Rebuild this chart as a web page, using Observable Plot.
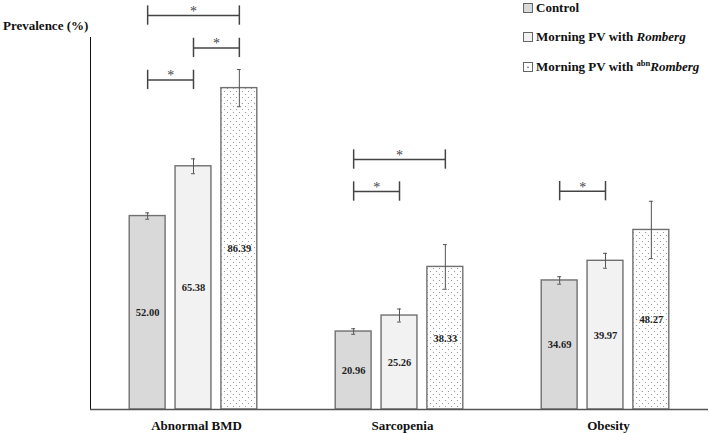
<!DOCTYPE html>
<html>
<head>
<meta charset="utf-8">
<script src="https://cdn.jsdelivr.net/npm/d3@7"></script>
<script src="https://cdn.jsdelivr.net/npm/@observablehq/plot@0.6"></script>
<style>
  body { margin: 0; background: #fff; }
  #wrap { position: relative; width: 709px; height: 433px; font-family: "Liberation Serif", "Times New Roman", serif; color: #111; }
  #ylab { position: absolute; left: 3px; top: 18px; font-weight: bold; font-size: 13px; white-space: nowrap; }
  .leg { position: absolute; left: 523px; font-weight: bold; font-size: 13px; white-space: nowrap; display: flex; align-items: center; }
  .sw { width: 8px; height: 8px; border: 1px solid #666; margin-right: 3px; box-sizing: content-box; }
  .leg sup { font-size: 8.5px; vertical-align: 5px; line-height: 0; }
  #chart { position: absolute; left: 0; top: 0; }
</style>
</head>
<body>
<div id="wrap">
  <div id="chart"></div>
  <div id="ylab">Prevalence (%)</div>
  <div id="legend"></div>
</div>
<script>
// ---- data ----
const categories = ["Abnormal BMD", "Sarcopenia", "Obesity"];
const groups = ["Control", "Morning PV with Romberg", "Morning PV with abnRomberg"];
const controlValues = [52.00, 20.96, 34.69];
const rombergValues = [65.38, 25.26, 39.97];
const abnRombergValues = [86.39, 38.33, 48.27];
const controlErrors = [0.85, 0.75, 1.0];
const rombergErrors = [2.0, 1.75, 2.0];
const abnRombergErrors = [5.0, 6.0, 7.7];
// significance brackets
const bracketCategory = ["Abnormal BMD", "Abnormal BMD", "Abnormal BMD", "Sarcopenia", "Sarcopenia", "Obesity"];
const bracketFrom = ["Control", "Morning PV with Romberg", "Control", "Control", "Control", "Control"];
const bracketTo = ["Morning PV with abnRomberg", "Morning PV with abnRomberg", "Morning PV with Romberg", "Morning PV with abnRomberg", "Morning PV with Romberg", "Morning PV with Romberg"];
const bracketLevel = [105.9, 97.2, 88.6, 67.2, 58.6, 58.7];
const bracketLabel = ["*", "*", "*", "*", "*", "*"];

// ---- tables ----
const valuesByGroup = [controlValues, rombergValues, abnRombergValues];
const errorsByGroup = [controlErrors, rombergErrors, abnRombergErrors];
const rows = [];
categories.forEach((c, i) => groups.forEach((g, j) => {
  rows.push({category: c, group: g, value: valuesByGroup[j][i], err: errorsByGroup[j][i]});
}));
const brackets = bracketCategory.map((c, i) => ({
  category: c, from: bracketFrom[i], to: bracketTo[i], level: bracketLevel[i], label: bracketLabel[i],
  span: groups.indexOf(bracketTo[i]) - groups.indexOf(bracketFrom[i])
}));
const bracketEnds = brackets.flatMap(b => [{category: b.category, group: b.from, level: b.level}, {category: b.category, group: b.to, level: b.level}]);

// ---- layout ----
const W = 709, H = 433, mL = 89, mR = 0, mT = 37, mB = 24;
const padInner = 0.217, padOuter = 0.855;
const facetW = (W - mL - mR) / categories.length;
const step = facetW / (groups.length - padInner + 2 * padOuter);
const bw = step * (1 - padInner);
const font = '"Liberation Serif", "Times New Roman", serif';
const fills = ["#d9d9d9", "#f2f2f2", "url(#dots)"];

const chart = Plot.plot({
  width: W, height: H,
  marginLeft: mL, marginRight: mR, marginTop: mT, marginBottom: mB,
  style: {fontFamily: font, background: "transparent", overflow: "visible"},
  fx: {domain: categories, padding: 0, axis: null},
  x: {domain: groups, paddingInner: padInner, paddingOuter: padOuter, round: false, axis: null},
  y: {domain: [0, 100], ticks: [], line: true, label: null, tickSize: 0},
  color: {domain: groups, range: fills},
  marks: [
    Plot.barY(rows, {fx: "category", x: "group", y: "value", fill: "group", stroke: "#707070", strokeWidth: 1.4}),
    Plot.ruleY([0], {stroke: "#555", strokeWidth: 1.3}),
    Plot.ruleX(rows, {fx: "category", x: "group", y1: d => d.value - d.err, y2: d => d.value + d.err, stroke: "#555", strokeWidth: 1}),
    Plot.tickY(rows, {fx: "category", x: "group", y: d => d.value + d.err, insetLeft: (bw - 4) / 2, insetRight: (bw - 4) / 2, stroke: "#555", strokeWidth: 1}),
    Plot.tickY(rows, {fx: "category", x: "group", y: d => d.value - d.err, insetLeft: (bw - 4) / 2, insetRight: (bw - 4) / 2, stroke: "#555", strokeWidth: 1}),
    Plot.text(rows, {fx: "category", x: "group", y: d => d.value / 2, text: d => d.value.toFixed(2), fontSize: 10.5, fontWeight: "bold", fill: "#222"}),
    Plot.link(brackets, {fx: "category", x1: "from", x2: "to", y1: "level", y2: "level", stroke: "#444", strokeWidth: 1.5}),
    Plot.ruleX(bracketEnds, {fx: "category", x: "group", y1: d => d.level - 2.6, y2: d => d.level + 2.6, stroke: "#444", strokeWidth: 1.5}),
    Plot.text(brackets.filter(b => b.span === 1), {fx: "category", x: "from", y: "level", text: "label", dx: Math.round(step / 2), dy: -4, fontSize: 14, fill: "#444", opacity: 0.99}),
    Plot.text(brackets.filter(b => b.span === 2), {fx: "category", x: () => groups[1], y: "level", text: "label", dy: -4, fontSize: 14, fill: "#444", opacity: 0.99}),
    Plot.axisFx({anchor: "bottom", tickSize: 0, tickPadding: 11, dx: 3, fontSize: 13, fontWeight: "bold", fill: "#111", label: null})
  ]
});

// dotted pattern for the third series
const svg = d3.select(chart);
const defs = svg.insert("defs", ":first-child");
const pat = defs.append("pattern").attr("id", "dots").attr("patternUnits", "userSpaceOnUse").attr("width", 6).attr("height", 6);
pat.append("rect").attr("width", 6).attr("height", 6).attr("fill", "#fff");
pat.append("circle").attr("cx", 1.5).attr("cy", 1.5).attr("r", 0.6).attr("fill", "#8a8a8a");
pat.append("circle").attr("cx", 4.5).attr("cy", 4.5).attr("r", 0.6).attr("fill", "#8a8a8a");
document.getElementById("chart").appendChild(chart);

// legend
const legendTops = [0, 29, 59];
const legendHtml = [
  "Control",
  "Morning PV with <i>Romberg</i>",
  "Morning PV with <sup>abn</sup><i>Romberg</i>"
];
const swatchBg = [
  "#d9d9d9",
  "#f2f2f2",
  "radial-gradient(circle at 50% 55%, #8a8a8a 0.7px, #fff 1.2px)"
];
const legend = document.getElementById("legend");
groups.forEach((g, i) => {
  const d = document.createElement("div");
  d.className = "leg";
  d.style.top = legendTops[i] + "px";
  d.innerHTML = `<span class="sw" style="background:${swatchBg[i]}"></span><span>${legendHtml[i]}</span>`;
  legend.appendChild(d);
});
</script>
</body>
</html>
